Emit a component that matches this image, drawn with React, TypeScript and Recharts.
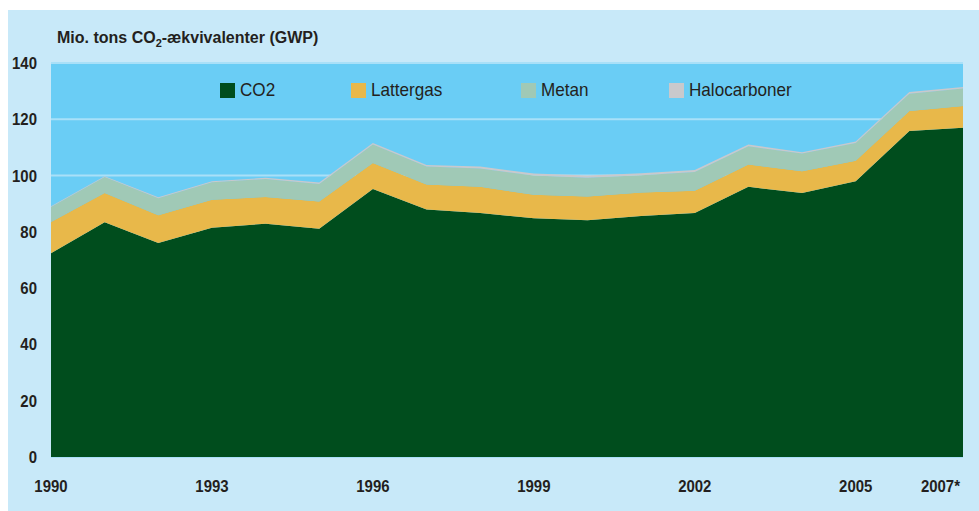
import { Area, AreaChart, CartesianGrid, XAxis, YAxis } from "recharts";

const years = [
  1990, 1991, 1992, 1993, 1994, 1995, 1996, 1997, 1998, 1999, 2000, 2001,
  2002, 2003, 2004, 2005, 2006, 2007,
];
const co2 = [
  72.4, 83.4, 76.0, 81.5, 82.9, 81.1, 95.2, 87.9, 86.7, 84.8, 84.1, 85.6,
  86.7, 96.0, 93.8, 98.0, 115.8, 117.0,
];
const lattergas = [
  11.1, 10.4, 9.9, 9.9, 9.5, 9.7, 9.3, 8.9, 9.3, 8.4, 8.5, 8.4, 7.9, 7.9, 7.7,
  7.3, 7.1, 7.7,
];
const metan = [
  5.3, 5.7, 6.0, 6.2, 6.4, 6.2, 6.5, 6.4, 6.5, 6.8, 6.6, 6.1, 6.7, 6.5, 6.3,
  6.3, 6.2, 6.2,
];
const halocarboner = [
  0.3, 0.3, 0.4, 0.4, 0.4, 0.5, 0.6, 0.6, 0.7, 0.7, 0.8, 0.7, 0.7, 0.6, 0.5,
  0.5, 0.6, 0.6,
];
const xTicks = [1990, 1993, 1996, 1999, 2002, 2005, 2007];
const yTicks = [0, 20, 40, 60, 80, 100, 120, 140];

const series = [
  { key: "co2", name: "CO2", color: "#004d1d" },
  { key: "lattergas", name: "Lattergas", color: "#e8b84a" },
  { key: "metan", name: "Metan", color: "#a0c9b6" },
  { key: "halo", name: "Halocarboner", color: "#c9c9cc" },
];
// left edge of each legend item, inside the framed box
const legendLeft = [212, 343, 513, 661];

const data = years.map((year, i) => ({
  year,
  co2: co2[i],
  lattergas: lattergas[i],
  metan: metan[i],
  halo: halocarboner[i],
}));

const font = "'Liberation Sans', Arial, sans-serif";
const textColor = "#231f20";

function XTick({ x, y, payload }: any) {
  const last = payload.value === 2007;
  return (
    <g transform={`translate(${last ? x - 3 : x},${y + 27}) scale(0.88,1)`}>
      <text
        x={0}
        y={0}
        textAnchor={last ? "end" : "middle"}
        fill={textColor}
        fontFamily={font}
        fontWeight="bold"
        fontSize={17}
      >
        {last ? "2007*" : payload.value}
      </text>
    </g>
  );
}

function YTick({ x, y, payload }: any) {
  return (
    <g transform={`translate(${x - 6},${y + 6}) scale(0.88,1)`}>
      <text
        x={0}
        y={0}
        textAnchor="end"
        fill={textColor}
        fontFamily={font}
        fontWeight="bold"
        fontSize={17}
      >
        {payload.value}
      </text>
    </g>
  );
}

export default function App() {
  return (
    <div style={{ position: "fixed", left: 0, top: 0, width: 979, height: 511, background: "#fff" }}>
      <div
        style={{
          position: "absolute",
          left: 8,
          top: 10,
          width: 971,
          height: 501,
          background: "#c8e9f9",
        }}
      >
        <div
          style={{
            position: "absolute",
            left: 49,
            top: 19,
            fontFamily: font,
            fontWeight: "bold",
            fontSize: 16,
            color: textColor,
            whiteSpace: "nowrap",
          }}
        >
          Mio. tons CO<sub style={{ fontSize: 11 }}>2</sub>-ækvivalenter (GWP)
        </div>
        <AreaChart
          width={971}
          height={501}
          data={data}
          margin={{ top: 53, right: 16, left: 0, bottom: 24 }}
        >
          <CartesianGrid
            vertical={false}
            stroke="#a9e0f8"
            strokeWidth={2}
            fill="#6acdf5"
            fillOpacity={1}
          />
          <XAxis
            dataKey="year"
            type="number"
            domain={[1990, 2007]}
            ticks={xTicks}
            axisLine={false}
            tickLine={false}
            height={30}
            tick={<XTick />}
          />
          <YAxis
            domain={[0, 140]}
            ticks={yTicks}
            axisLine={false}
            tickLine={false}
            width={43}
            tick={<YTick />}
          />
          {series.map((s) => (
            <Area
              key={s.key}
              type="linear"
              dataKey={s.key}
              name={s.name}
              stackId="1"
              stroke="none"
              fill={s.color}
              fillOpacity={1}
              isAnimationActive={false}
            />
          ))}
        </AreaChart>
        {series.map((s, i) => (
          <div
            key={s.key}
            style={{
              position: "absolute",
              left: legendLeft[i],
              top: 69,
              display: "flex",
              alignItems: "center",
              fontFamily: font,
              fontSize: 19,
              color: textColor,
              whiteSpace: "nowrap",
            }}
          >
            <span style={{ width: 15, height: 15, background: s.color, marginRight: 5 }} />
            <span style={{ display: "inline-block", transform: "scaleX(0.9)", transformOrigin: "left center" }}>
              {s.name}
            </span>
          </div>
        ))}
      </div>
    </div>
  );
}
